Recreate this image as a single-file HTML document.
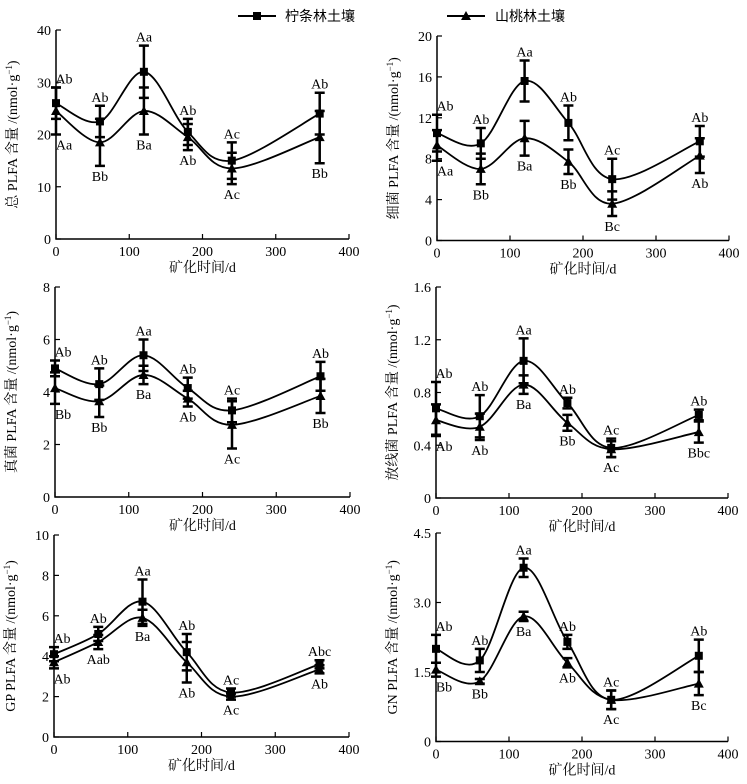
<!DOCTYPE html>
<html><head><meta charset="utf-8"><style>
html,body{margin:0;padding:0;background:#fff;}
svg{display:block;font-family:"Liberation Serif","Noto Serif CJK SC","Noto Sans CJK SC",serif;}
</style></head><body>
<svg id="fig" width="747" height="784" viewBox="0 0 747 784">
<g>
<g>
<line x1="238" y1="16" x2="276" y2="16" stroke="#000" stroke-width="2"/><rect x="253" y="12" width="8" height="8" fill="#000"/>
<text x="285" y="21" font-size="14" font-family="Liberation Serif,Noto Sans CJK SC,sans-serif">柠条林土壤</text></g>
<g>
<line x1="447" y1="16" x2="485" y2="16" stroke="#000" stroke-width="2"/><path d="M466 11 L471 20 L461 20Z" fill="#000"/>
<text x="495" y="21" font-size="14" font-family="Liberation Serif,Noto Sans CJK SC,sans-serif">山桃林土壤</text></g>
</g>
</svg>
<script>
const xVals=[0,60,120,180,240,360];
const xTicks=[0,100,200,300,400];
// panel 1 total PLFA
const p1Ticks=[0,10,20,30,40];
const p1Up=[26,22.5,32,20.5,15,24];
const p1UpErr=[3,3,5,2.5,3.5,4];
const p1Lo=[24.5,18.5,24.5,19.5,13.5,19.5];
const p1LoErr=[4.5,4.5,4.5,2.5,3,5];
const p1UpLab=["Ab","Ab","Aa","Ab","Ac","Ab"];
const p1LoLab=["Aa","Bb","Ba","Ab","Ac","Bb"];
// panel 2 bacteria
const p2Ticks=[0,4,8,12,16,20];
const p2Up=[10.5,9.5,15.6,11.5,6,9.7];
const p2UpErr=[1.8,1.5,2,1.7,2,1.5];
const p2Lo=[9.3,7,10,7.7,3.6,8.3];
const p2LoErr=[1.5,1.5,1.7,1.2,1.2,1.7];
const p2UpLab=["Ab","Ab","Aa","Ab","Ac","Ab"];
const p2LoLab=["Aa","Bb","Ba","Bb","Bc","Ab"];
// panel 3 fungi
const p3Ticks=[0,2,4,6,8];
const p3Up=[4.9,4.3,5.4,4.15,3.3,4.6];
const p3UpErr=[0.3,0.6,0.6,0.4,0.45,0.55];
const p3Lo=[4.15,3.65,4.65,3.75,2.75,3.85];
const p3LoErr=[0.6,0.6,0.35,0.3,0.9,0.65];
const p3UpLab=["Ab","Ab","Aa","Ab","Ac","Ab"];
const p3LoLab=["Bb","Bb","Ba","Ab","Ac","Bb"];
// panel 4 actinomycetes
const p4Ticks=[0,0.4,0.8,1.2,1.6];
const p4Up=[0.68,0.62,1.04,0.72,0.38,0.63];
const p4UpErr=[0.2,0.16,0.17,0.04,0.07,0.04];
const p4Lo=[0.59,0.54,0.86,0.57,0.37,0.5];
const p4LoErr=[0.12,0.1,0.07,0.06,0.06,0.08];
const p4UpLab=["Ab","Ab","Aa","Ab","Ac","Ab"];
const p4LoLab=["Ab","Ab","Ba","Bb","Ac","Bbc"];
// panel 5 GP
const p5Ticks=[0,2,4,6,8,10];
const p5Up=[4.1,5.1,6.7,4.2,2.2,3.6];
const p5UpErr=[0.35,0.35,1.1,0.9,0.2,0.2];
const p5Lo=[3.7,4.7,5.9,3.7,2.0,3.35];
const p5LoErr=[0.3,0.35,0.4,1.0,0.15,0.2];
const p5UpLab=["Ab","Ab","Aa","Ab","Ac","Abc"];
const p5LoLab=["Ab","Aab","Ba","Ab","Ac","Ab"];
// panel 6 GN
const p6Ticks=[0,1.5,3.0,4.5];
const p6Up=[2.0,1.75,3.75,2.15,0.9,1.85];
const p6UpErr=[0.3,0.25,0.2,0.15,0.2,0.35];
const p6Lo=[1.55,1.3,2.7,1.7,0.9,1.25];
const p6LoErr=[0.15,0.05,0.1,0.1,0.2,0.25];
const p6UpLab=["Ab","Ab","Aa","Ab","Ac","Ab"];
const p6LoLab=["Bb","Bb","Ba","Ab","Ac","Bc"];

const NS="http://www.w3.org/2000/svg";
const svg=document.getElementById('fig');
function mk(tag,attrs,parent){const e=document.createElementNS(NS,tag);for(const k in attrs)e.setAttribute(k,attrs[k]);(parent||svg).appendChild(e);return e;}
function spline(pts){let d="M"+pts[0][0]+" "+pts[0][1];for(let i=0;i<pts.length-1;i++){const p0=pts[i-1]||pts[i],p1=pts[i],p2=pts[i+1],p3=pts[i+2]||p2;const t=1/3;const c1=[p1[0]+(p2[0]-p0[0])*t/2,p1[1]+(p2[1]-p0[1])*t/2];const c2=[p2[0]-(p3[0]-p1[0])*t/2,p2[1]-(p3[1]-p1[1])*t/2];d+=` C${c1[0]} ${c1[1]} ${c2[0]} ${c2[1]} ${p2[0]} ${p2[1]}`;}return d;}
function panel(name,ax,yTicks,up,upE,lo,loE,upL,loL,title,tickFmt){
 const g=mk('g',{});
 
 
 const yMax=yTicks[yTicks.length-1];
 const X=v=>ax.x0+(ax.x1-ax.x0)*v/400;
 const Y=v=>ax.y0-(ax.y0-ax.y1)*v/yMax;
 const axes=mk('path',{d:`M${ax.x0} ${ax.y1} L${ax.x0} ${ax.y0} L${ax.x1} ${ax.y0}`,fill:'none',stroke:'#000','stroke-width':1.5},g);
 
 
 yTicks.forEach(t=>{mk('line',{x1:ax.x0,x2:ax.x0+5,y1:Y(t),y2:Y(t),stroke:'#000','stroke-width':1.2},g);
  const tl=mk('text',{x:ax.x0-5,y:Y(t)+5,'font-size':14,'text-anchor':'end'},g);tl.textContent=tickFmt(t);
  
  });
 xTicks.forEach(t=>{mk('line',{x1:X(t),x2:X(t),y1:ax.y0,y2:ax.y0-5,stroke:'#000','stroke-width':1.2},g);
  const tl=mk('text',{x:X(t),y:ax.y0+17,'font-size':14,'text-anchor':'middle'},g);tl.textContent=t;
  
  });
 const xt=mk('text',{x:(ax.x0+ax.x1)/2,y:ax.y0+33,'font-size':14,'text-anchor':'middle'},g);xt.textContent='矿化时间/d';
 
 
 const cy=(ax.y0+ax.y1)/2, tx=ax.x0-39;
 const yt=mk('text',{x:tx,y:cy,'font-size':14,'text-anchor':'middle',transform:`rotate(-90 ${tx} ${cy})`},g);
 yt.innerHTML=title+' /(nmol·g<tspan dy="-5" font-size="9">−1</tspan><tspan dy="5">)</tspan>';
 
 
 [[up,upE,'sq',upL,-1],[lo,loE,'tri',loL,1]].forEach(([vals,errs,mark,labs,dir],si)=>{
  const pts=vals.map((v,i)=>[X(xVals[i]),Y(v)]);
  const ln=mk('path',{d:spline(pts),fill:'none',stroke:'#000','stroke-width':1.8},g);
  
  
  vals.forEach((v,i)=>{
   const x=X(xVals[i]),yt2=Y(v+errs[i]),yb=Y(v-errs[i]);
   const eb=mk('path',{d:`M${x} ${yt2} L${x} ${yb} M${x-5} ${yt2} L${x+5} ${yt2} M${x-5} ${yb} L${x+5} ${yb}`,stroke:'#000','stroke-width':2.5,fill:'none'},g);
   
   
   const m=mark==='sq'?mk('rect',{x:x-4,y:Y(v)-4,width:8,height:8,fill:'#000'},g):mk('path',{d:`M${x} ${Y(v)-5} L${x+5} ${Y(v)+4} L${x-5} ${Y(v)+4}Z`,fill:'#000'},g);
   
   
   const lx=x+(i===0?8:0);
   const ly=dir<0?yt2-4:yb+15;
   const lt=mk('text',{x:lx,y:ly,'font-size':14,'text-anchor':'middle'},g);lt.textContent=labs[i];
   
   
  });
 });
}
const f0=t=>t;
panel('panel-total-plfa',{x0:56,x1:349,y0:239,y1:30},p1Ticks,p1Up,p1UpErr,p1Lo,p1LoErr,p1UpLab,p1LoLab,'总 PLFA 含量',f0);
panel('panel-bacteria',{x0:437,x1:729,y0:240.5,y1:36},p2Ticks,p2Up,p2UpErr,p2Lo,p2LoErr,p2UpLab,p2LoLab,'细菌 PLFA 含量',f0);
panel('panel-fungi',{x0:55,x1:350,y0:497,y1:287},p3Ticks,p3Up,p3UpErr,p3Lo,p3LoErr,p3UpLab,p3LoLab,'真菌 PLFA 含量',f0);
panel('panel-actinomycetes',{x0:436,x1:728,y0:498,y1:287},p4Ticks,p4Up,p4UpErr,p4Lo,p4LoErr,p4UpLab,p4LoLab,'放线菌 PLFA 含量',t=>t===0?'0':t.toFixed(1));
panel('panel-gp',{x0:54,x1:349,y0:737,y1:535},p5Ticks,p5Up,p5UpErr,p5Lo,p5LoErr,p5UpLab,p5LoLab,'GP PLFA 含量',f0);
panel('panel-gn',{x0:436,x1:728,y0:741.5,y1:533},p6Ticks,p6Up,p6UpErr,p6Lo,p6LoErr,p6UpLab,p6LoLab,'GN PLFA 含量',t=>t===0?'0':t.toFixed(1));
</script>
</body></html>
